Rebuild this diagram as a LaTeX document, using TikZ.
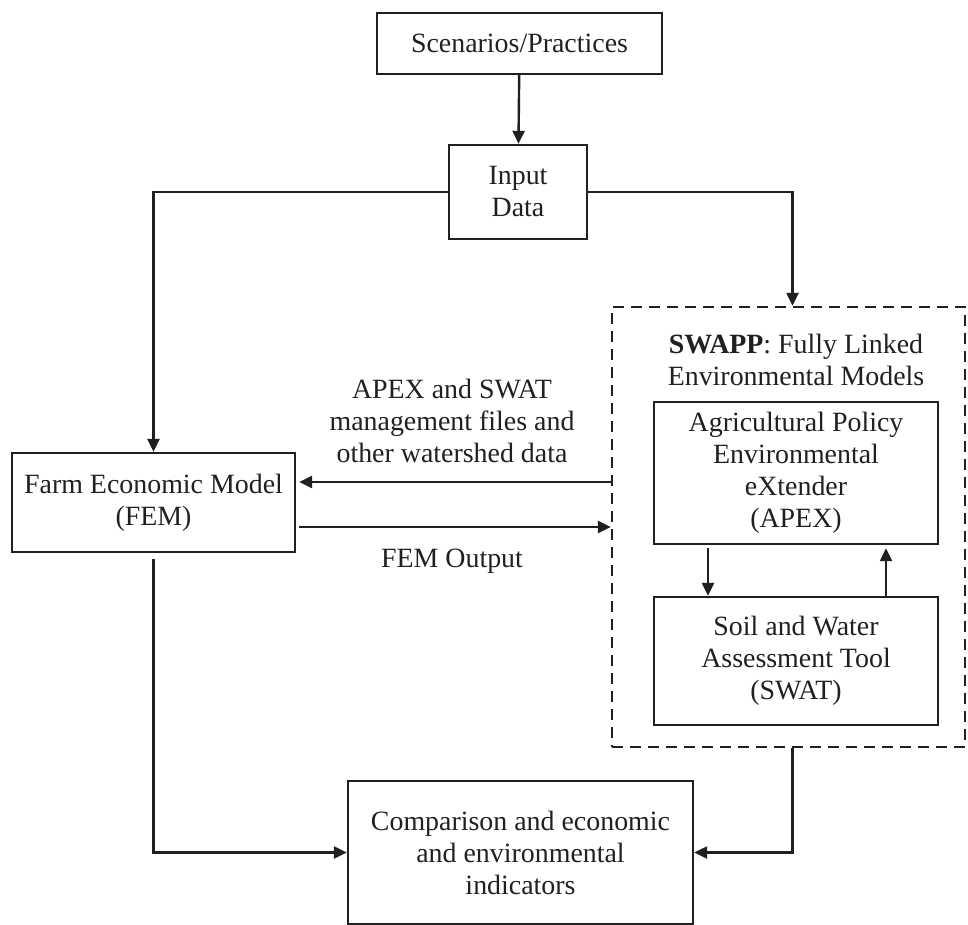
\documentclass[tikz,border=0pt]{standalone}
\usepackage{fontspec}
\setmainfont{Liberation Serif}
\usepackage{xcolor}
\usepackage{tikz}
\usetikzlibrary{arrows.meta,positioning,calc}
\definecolor{ink}{RGB}{35,31,32}

\begin{document}
\begin{tikzpicture}[
  x=0.5pt, y=-0.5pt,
  every node/.style={font=\fontsize{13.95}{16}\selectfont, text=ink, align=center},
  box/.style={draw=ink, line width=1.2pt, inner sep=2pt},
  group/.style={draw=ink, line width=1.2pt, dash pattern=on 5.5pt off 3.5pt},
  flow/.style={draw=ink, line width=1.2pt, -{Triangle[length=6.5pt,width=6pt]}},
]
\useasboundingbox (0,0) rectangle (968,925);

% --- Top ---
\node[box, minimum width=142.5pt, minimum height=30.5pt] (scen) at (519.5,43.5) {Scenarios/Practices};
\node[box, minimum width=69pt, minimum height=47pt] (input) at (518,192) {Input\\Data};

% --- Economic side ---
\node[box, minimum width=141.5pt, minimum height=49.5pt] (fem) at (153.5,502.5)
  {Farm Economic Model\\(FEM)};

% --- SWAPP group ---
\node[group, minimum width=176.5pt, minimum height=220pt] (swapp) at (788.5,527) {};
\node (swapplbl) at (796,360) {\textbf{SWAPP}: Fully Linked\\Environmental Models};
\node[box, minimum width=142pt, minimum height=71pt] (apex) at (796,473)
  {Agricultural Policy\\Environmental\\eXtender\\(APEX)};
\node[box, minimum width=142pt, minimum height=64pt] (swat) at (796,661)
  {Soil and Water\\Assessment Tool\\(SWAT)};

% --- Bottom ---
\node[box, minimum width=172.5pt, minimum height=71.5pt] (comp) at (520.5,852.5)
  {Comparison and economic\\and environmental\\indicators};

% Link labels
\node (mgmtlbl) at (452,421) {APEX and SWAT\\management files and\\other watershed data};
\node (femlbl) at (452,561) {FEM Output};

% Connectors
\coordinate (back) at ([yshift=22.5pt]swapp.west);
\draw[flow] (scen) -- (input);
\draw[flow] (input.west) -| (fem.north);
\draw[flow] (input.east) -| ([xshift=2pt]swapp.north);
\draw[flow] (back) -- ([xshift=1.5pt]back -| fem.east);
\draw[flow] ([xshift=1.5pt]fem.east |- swapp.west) -- (swapp.west);
\draw[flow] ([xshift=-44pt,yshift=-1.5pt]apex.south) -- ([xshift=-44pt]swat.north);
\draw[flow] ([xshift=45pt]swat.north) -- ([xshift=45pt,yshift=-1.5pt]apex.south);
\draw[flow] ([yshift=-3pt]fem.south) |- (comp.west);
\draw[flow] ([xshift=2pt]swapp.south) |- (comp.east);
\end{tikzpicture}
\end{document}
